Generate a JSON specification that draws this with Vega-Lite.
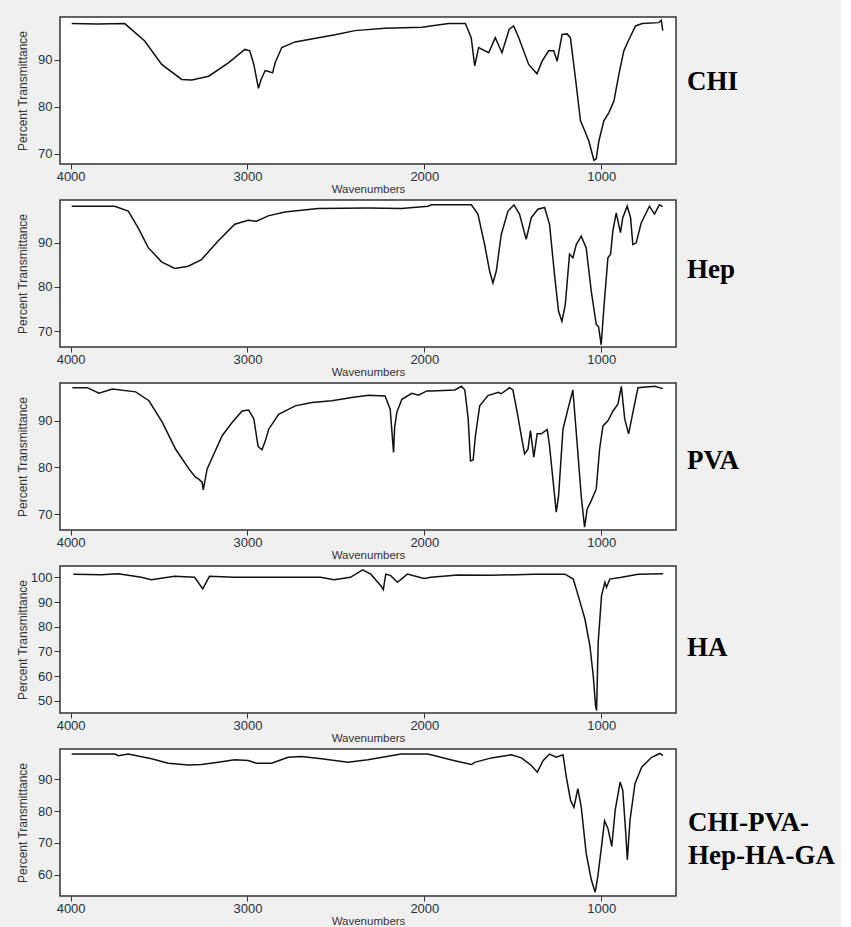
{
"$schema": "https://vega.github.io/schema/vega-lite/v6.json",
"padding": {"left": 15, "top": 16, "right": 5, "bottom": 0},
"spacing": 3,
"datasets": {
"chi": [{"w":3994,"t":97.7},{"w":3850,"t":97.6},{"w":3694,"t":97.7},{"w":3581,"t":94.0},{"w":3485,"t":89.0},{"w":3372,"t":85.8},{"w":3315,"t":85.7},{"w":3219,"t":86.5},{"w":3106,"t":89.4},{"w":3015,"t":92.2},{"w":2987,"t":91.9},{"w":2964,"t":89.0},{"w":2938,"t":83.9},{"w":2923,"t":85.8},{"w":2900,"t":87.7},{"w":2881,"t":87.5},{"w":2858,"t":87.2},{"w":2843,"t":89.4},{"w":2806,"t":92.6},{"w":2731,"t":93.8},{"w":2599,"t":94.7},{"w":2505,"t":95.3},{"w":2392,"t":96.2},{"w":2222,"t":96.7},{"w":2014,"t":96.9},{"w":1863,"t":97.7},{"w":1768,"t":97.7},{"w":1735,"t":94.7},{"w":1715,"t":88.7},{"w":1693,"t":92.6},{"w":1636,"t":91.5},{"w":1599,"t":94.7},{"w":1561,"t":91.5},{"w":1520,"t":96.5},{"w":1495,"t":97.2},{"w":1466,"t":94.7},{"w":1410,"t":89.0},{"w":1363,"t":87.0},{"w":1334,"t":89.7},{"w":1297,"t":91.9},{"w":1268,"t":91.9},{"w":1249,"t":89.7},{"w":1221,"t":95.4},{"w":1193,"t":95.5},{"w":1174,"t":94.7},{"w":1146,"t":86.2},{"w":1117,"t":77.0},{"w":1089,"t":74.5},{"w":1070,"t":72.7},{"w":1041,"t":68.6},{"w":1028,"t":68.9},{"w":1013,"t":72.7},{"w":985,"t":77.0},{"w":957,"t":78.7},{"w":928,"t":81.2},{"w":900,"t":86.9},{"w":872,"t":91.9},{"w":843,"t":94.3},{"w":806,"t":97.2},{"w":768,"t":97.7},{"w":674,"t":97.9},{"w":660,"t":98.4},{"w":652,"t":96.2}],
"hep": [{"w":3994,"t":98.3},{"w":3751,"t":98.3},{"w":3674,"t":97.2},{"w":3618,"t":93.4},{"w":3561,"t":88.9},{"w":3486,"t":85.7},{"w":3411,"t":84.2},{"w":3335,"t":84.7},{"w":3260,"t":86.2},{"w":3166,"t":90.4},{"w":3072,"t":94.2},{"w":2996,"t":95.1},{"w":2949,"t":94.9},{"w":2883,"t":96.1},{"w":2789,"t":97.0},{"w":2601,"t":97.8},{"w":2318,"t":97.9},{"w":2130,"t":97.8},{"w":1979,"t":98.3},{"w":1960,"t":98.6},{"w":1734,"t":98.6},{"w":1697,"t":96.5},{"w":1659,"t":89.6},{"w":1631,"t":83.6},{"w":1612,"t":80.9},{"w":1593,"t":83.6},{"w":1565,"t":91.9},{"w":1527,"t":97.2},{"w":1493,"t":98.6},{"w":1462,"t":96.5},{"w":1424,"t":90.8},{"w":1395,"t":95.7},{"w":1358,"t":97.6},{"w":1320,"t":98.0},{"w":1292,"t":94.2},{"w":1264,"t":82.8},{"w":1241,"t":74.5},{"w":1222,"t":72.2},{"w":1203,"t":76.0},{"w":1179,"t":87.4},{"w":1160,"t":86.6},{"w":1141,"t":89.6},{"w":1113,"t":91.5},{"w":1085,"t":88.9},{"w":1056,"t":79.0},{"w":1028,"t":71.5},{"w":1015,"t":71.0},{"w":1000,"t":66.9},{"w":985,"t":75.2},{"w":962,"t":86.6},{"w":947,"t":87.4},{"w":934,"t":92.7},{"w":915,"t":96.8},{"w":891,"t":92.3},{"w":878,"t":95.7},{"w":853,"t":98.3},{"w":834,"t":95.7},{"w":821,"t":89.6},{"w":802,"t":90.0},{"w":774,"t":94.5},{"w":727,"t":98.3},{"w":699,"t":96.5},{"w":671,"t":98.6},{"w":652,"t":98.2}],
"pva": [{"w":3990,"t":97.1},{"w":3906,"t":97.1},{"w":3840,"t":95.9},{"w":3764,"t":96.8},{"w":3632,"t":96.2},{"w":3557,"t":94.3},{"w":3482,"t":89.7},{"w":3406,"t":83.9},{"w":3331,"t":79.7},{"w":3294,"t":77.9},{"w":3275,"t":77.5},{"w":3256,"t":76.8},{"w":3250,"t":75.2},{"w":3228,"t":79.7},{"w":3190,"t":82.9},{"w":3143,"t":86.8},{"w":3086,"t":89.7},{"w":3030,"t":92.1},{"w":2993,"t":92.3},{"w":2964,"t":90.4},{"w":2940,"t":84.5},{"w":2918,"t":83.8},{"w":2899,"t":85.7},{"w":2880,"t":88.2},{"w":2824,"t":91.4},{"w":2730,"t":93.2},{"w":2636,"t":93.9},{"w":2523,"t":94.3},{"w":2410,"t":95.0},{"w":2316,"t":95.5},{"w":2222,"t":95.3},{"w":2193,"t":92.5},{"w":2174,"t":83.2},{"w":2168,"t":88.6},{"w":2155,"t":91.9},{"w":2127,"t":94.6},{"w":2071,"t":95.9},{"w":2033,"t":95.5},{"w":1986,"t":96.4},{"w":1960,"t":96.4},{"w":1828,"t":96.6},{"w":1790,"t":97.4},{"w":1771,"t":96.6},{"w":1752,"t":90.4},{"w":1739,"t":81.4},{"w":1724,"t":81.6},{"w":1711,"t":86.8},{"w":1687,"t":93.2},{"w":1640,"t":95.4},{"w":1583,"t":96.1},{"w":1565,"t":95.8},{"w":1518,"t":97.1},{"w":1499,"t":96.6},{"w":1471,"t":91.0},{"w":1452,"t":86.8},{"w":1433,"t":82.9},{"w":1414,"t":83.9},{"w":1400,"t":87.9},{"w":1381,"t":82.2},{"w":1362,"t":87.2},{"w":1339,"t":87.2},{"w":1305,"t":88.1},{"w":1292,"t":84.6},{"w":1273,"t":77.5},{"w":1254,"t":70.4},{"w":1241,"t":73.9},{"w":1216,"t":88.2},{"w":1188,"t":92.5},{"w":1160,"t":96.6},{"w":1132,"t":83.2},{"w":1113,"t":73.9},{"w":1094,"t":67.2},{"w":1079,"t":71.1},{"w":1056,"t":72.9},{"w":1028,"t":75.4},{"w":1009,"t":83.9},{"w":990,"t":88.9},{"w":962,"t":90.0},{"w":933,"t":92.1},{"w":905,"t":93.6},{"w":886,"t":97.4},{"w":867,"t":90.4},{"w":845,"t":87.2},{"w":820,"t":91.9},{"w":792,"t":97.1},{"w":698,"t":97.4},{"w":651,"t":96.9}],
"ha": [{"w":3985,"t":101.3},{"w":3825,"t":101.1},{"w":3731,"t":101.5},{"w":3600,"t":100.0},{"w":3544,"t":99.0},{"w":3412,"t":100.4},{"w":3299,"t":100.0},{"w":3253,"t":95.3},{"w":3215,"t":100.4},{"w":3075,"t":100.0},{"w":2793,"t":100.0},{"w":2586,"t":100.0},{"w":2511,"t":99.0},{"w":2418,"t":100.0},{"w":2349,"t":103.0},{"w":2303,"t":101.3},{"w":2246,"t":96.6},{"w":2232,"t":95.0},{"w":2218,"t":101.3},{"w":2190,"t":100.7},{"w":2152,"t":98.0},{"w":2096,"t":101.3},{"w":2002,"t":99.5},{"w":1963,"t":100.0},{"w":1812,"t":101.0},{"w":1624,"t":100.8},{"w":1380,"t":101.3},{"w":1205,"t":101.3},{"w":1158,"t":99.3},{"w":1130,"t":92.6},{"w":1092,"t":83.1},{"w":1064,"t":72.3},{"w":1045,"t":60.2},{"w":1032,"t":48.0},{"w":1026,"t":46.0},{"w":1017,"t":73.7},{"w":998,"t":92.6},{"w":979,"t":98.0},{"w":970,"t":96.0},{"w":951,"t":99.3},{"w":885,"t":100.0},{"w":791,"t":101.3},{"w":650,"t":101.5}],
"comp": [{"w":3994,"t":98.0},{"w":3749,"t":98.0},{"w":3730,"t":97.5},{"w":3674,"t":98.0},{"w":3542,"t":96.5},{"w":3448,"t":95.1},{"w":3335,"t":94.6},{"w":3260,"t":94.7},{"w":3166,"t":95.4},{"w":3072,"t":96.2},{"w":2996,"t":96.0},{"w":2949,"t":95.1},{"w":2864,"t":95.1},{"w":2770,"t":97.0},{"w":2695,"t":97.2},{"w":2582,"t":96.5},{"w":2432,"t":95.4},{"w":2319,"t":96.2},{"w":2131,"t":98.0},{"w":1980,"t":98.0},{"w":1828,"t":95.9},{"w":1734,"t":94.7},{"w":1715,"t":95.4},{"w":1621,"t":96.8},{"w":1508,"t":97.8},{"w":1451,"t":96.8},{"w":1395,"t":94.4},{"w":1361,"t":92.3},{"w":1329,"t":95.9},{"w":1292,"t":98.0},{"w":1254,"t":97.0},{"w":1216,"t":97.8},{"w":1197,"t":90.7},{"w":1173,"t":83.4},{"w":1154,"t":81.2},{"w":1132,"t":87.1},{"w":1113,"t":81.4},{"w":1085,"t":66.8},{"w":1056,"t":58.4},{"w":1034,"t":54.5},{"w":1019,"t":59.5},{"w":996,"t":69.9},{"w":981,"t":77.0},{"w":962,"t":74.6},{"w":940,"t":68.9},{"w":921,"t":80.3},{"w":893,"t":89.2},{"w":878,"t":86.6},{"w":861,"t":73.0},{"w":852,"t":64.7},{"w":837,"t":77.2},{"w":809,"t":88.7},{"w":771,"t":93.9},{"w":715,"t":97.0},{"w":668,"t":98.2},{"w":650,"t":97.5}]
},
"vconcat": [
{"data": {"name": "chi"}, "width": 616, "height": 147,
 "title": {"text": "CHI", "orient": "right", "angle": 0, "align": "right", "baseline": "middle", "anchor": "middle", "offset": 11, "dy": -9, "font": "Liberation Serif", "fontSize": 27, "fontWeight": "bold", "color": "#000"},
 "mark": {"type": "line", "color": "#111", "strokeWidth": 1.5, "clip": true},
 "encoding": {
  "x": {"field": "w", "type": "quantitative", "scale": {"domain": [577, 4060], "reverse": true, "nice": false, "zero": false}, "axis": {"values": [4000, 3000, 2000, 1000], "format": "d", "title": "Wavenumbers"}},
  "y": {"field": "t", "type": "quantitative", "scale": {"domain": [67.8, 99.1], "nice": false, "zero": false}, "axis": {"values": [70, 80, 90], "title": "Percent Transmittance"}}
 }},
{"data": {"name": "hep"}, "width": 616, "height": 147,
 "title": {"text": "Hep", "orient": "right", "angle": 0, "align": "right", "baseline": "middle", "anchor": "middle", "offset": 11, "dy": -4, "font": "Liberation Serif", "fontSize": 27, "fontWeight": "bold", "color": "#000"},
 "mark": {"type": "line", "color": "#111", "strokeWidth": 1.5, "clip": true},
 "encoding": {
  "x": {"field": "w", "type": "quantitative", "scale": {"domain": [577, 4060], "reverse": true, "nice": false, "zero": false}, "axis": {"values": [4000, 3000, 2000, 1000], "format": "d", "title": "Wavenumbers"}},
  "y": {"field": "t", "type": "quantitative", "scale": {"domain": [66.4, 99.7], "nice": false, "zero": false}, "axis": {"values": [70, 80, 90], "title": "Percent Transmittance"}}
 }},
{"data": {"name": "pva"}, "width": 616, "height": 147,
 "title": {"text": "PVA", "orient": "right", "angle": 0, "align": "right", "baseline": "middle", "anchor": "middle", "offset": 11, "dy": 4, "font": "Liberation Serif", "fontSize": 27, "fontWeight": "bold", "color": "#000"},
 "mark": {"type": "line", "color": "#111", "strokeWidth": 1.5, "clip": true},
 "encoding": {
  "x": {"field": "w", "type": "quantitative", "scale": {"domain": [577, 4060], "reverse": true, "nice": false, "zero": false}, "axis": {"values": [4000, 3000, 2000, 1000], "format": "d", "title": "Wavenumbers"}},
  "y": {"field": "t", "type": "quantitative", "scale": {"domain": [66.6, 98.1], "nice": false, "zero": false}, "axis": {"values": [70, 80, 90], "title": "Percent Transmittance"}}
 }},
{"data": {"name": "ha"}, "width": 616, "height": 147,
 "title": {"text": "HA", "orient": "right", "angle": 0, "align": "right", "baseline": "middle", "anchor": "middle", "offset": 11, "dy": 8, "font": "Liberation Serif", "fontSize": 27, "fontWeight": "bold", "color": "#000"},
 "mark": {"type": "line", "color": "#111", "strokeWidth": 1.5, "clip": true},
 "encoding": {
  "x": {"field": "w", "type": "quantitative", "scale": {"domain": [577, 4060], "reverse": true, "nice": false, "zero": false}, "axis": {"values": [4000, 3000, 2000, 1000], "format": "d", "title": "Wavenumbers"}},
  "y": {"field": "t", "type": "quantitative", "scale": {"domain": [45.0, 104.6], "nice": false, "zero": false}, "axis": {"values": [50, 60, 70, 80, 90, 100], "title": "Percent Transmittance"}}
 }},
{"data": {"name": "comp"}, "width": 616, "height": 147,
 "title": {"text": ["CHI-PVA-", "Hep-HA-GA"], "orient": "right", "angle": 0, "align": "left", "baseline": "middle", "anchor": "middle", "offset": -135, "dy": 0, "lineHeight": 33, "font": "Liberation Serif", "fontSize": 27, "fontWeight": "bold", "color": "#000"},
 "mark": {"type": "line", "color": "#111", "strokeWidth": 1.5, "clip": true},
 "encoding": {
  "x": {"field": "w", "type": "quantitative", "scale": {"domain": [577, 4060], "reverse": true, "nice": false, "zero": false}, "axis": {"values": [4000, 3000, 2000, 1000], "format": "d", "title": "Wavenumbers"}},
  "y": {"field": "t", "type": "quantitative", "scale": {"domain": [53.3, 99.6], "nice": false, "zero": false}, "axis": {"values": [60, 70, 80, 90], "title": "Percent Transmittance"}}
 }}
],
"config": {
 "background": "#f0f0f0",
 "view": {"fill": "white", "stroke": "#333", "strokeWidth": 1.5},
 "axis": {"grid": false, "domain": false, "ticks": true, "tickColor": "#333", "tickSize": 5, "labelFont": "Liberation Sans", "labelFontSize": 13, "labelColor": "#223344", "titleFont": "Liberation Sans", "titleFontWeight": "normal", "titleColor": "#333", "labelPadding": 1},
 "axisX": {"titleFontSize": 11.5, "titlePadding": 0},
 "axisY": {"titleFontSize": 12, "titleX": -31, "tickSize": 6, "labelPadding": 2}
}
}
